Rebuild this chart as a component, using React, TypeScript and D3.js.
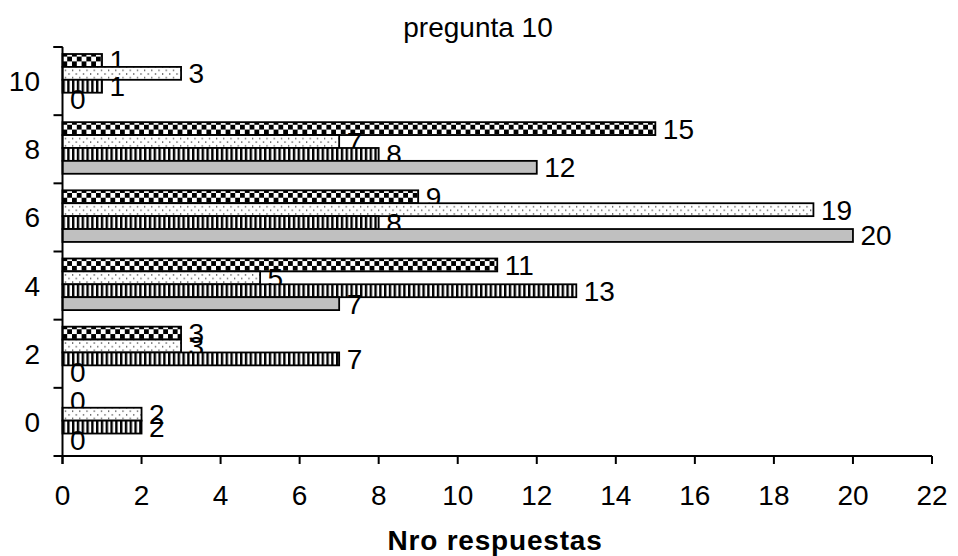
import React from "react";
import * as d3 from "d3";

const categories = ["0", "2", "4", "6", "8", "10"];
const seriesKeys = ["checker", "dots", "stripes", "gray"];
const checkerValues = [0, 3, 11, 9, 15, 1];
const dotValues = [2, 3, 5, 19, 7, 3];
const stripeValues = [2, 7, 13, 8, 8, 1];
const grayValues = [0, 0, 7, 20, 12, 0];
const xTicks = [0, 2, 4, 6, 8, 10, 12, 14, 16, 18, 20, 22];
const title = "pregunta 10";
const xTitle = "Nro respuestas";

const W = 958;
const H = 556;
const left = 62.5;
const right = 932;
const top = 47;
const bottom = 456;
const PS = 1.2;
const FONT = "'Liberation Sans', Arial, sans-serif";
const FS = 28;

const seriesValues: Record<string, number[]> = {
  checker: checkerValues,
  dots: dotValues,
  stripes: stripeValues,
  gray: grayValues,
};
const fills: Record<string, string> = {
  checker: "url(#pChecker)",
  dots: "url(#pDots)",
  stripes: "url(#pStripes)",
  gray: "#c0c0c0",
};

function T({ x, y, anchor = "start", bold = false, spacing = 0, children }: any) {
  return (
    <text
      x={x}
      y={y}
      textAnchor={anchor}
      fontFamily={FONT}
      fontSize={FS}
      fontWeight={bold ? "bold" : "normal"}
      letterSpacing={spacing}
      fill="#000"
    >
      {children}
    </text>
  );
}

export default function App() {
  const x = d3.scaleLinear().domain([0, 22]).range([left, right]);
  const y0 = d3.scaleBand<string>().domain(categories).range([bottom, top]).padding(0);
  const barH = 12.9;
  const y1 = d3
    .scaleBand<string>()
    .domain(seriesKeys)
    .range([7, 7 + 4 * barH])
    .padding(0);
  const bw = y0.bandwidth();
  const boundaries = categories.map((c) => y0(c) as number).concat([top, bottom]);

  return (
    <svg
      width={W}
      height={H}
      style={{ position: "fixed", left: 0, top: 0, background: "#fff" }}
    >
      <defs>
        <pattern id="pChecker" patternUnits="userSpaceOnUse" width={8} height={8} patternTransform={`scale(${PS})`}>
          <rect width={8} height={8} fill="#fff" />
          <rect width={4} height={4} fill="#000" />
          <rect x={4} y={4} width={4} height={4} fill="#000" />
        </pattern>
        <pattern id="pDots" patternUnits="userSpaceOnUse" width={6} height={6} patternTransform={`scale(${PS})`}>
          <rect width={6} height={6} fill="#fff" />
          <rect x={0} y={1} width={1} height={1} fill="#222" />
          <rect x={3} y={4} width={1} height={1} fill="#222" />
        </pattern>
        <pattern id="pStripes" patternUnits="userSpaceOnUse" width={4} height={4} patternTransform={`scale(${PS})`}>
          <rect width={4} height={4} fill="#fff" />
          <rect width={2} height={4} fill="#000" />
        </pattern>
      </defs>

      <T x={478} y={37} anchor="middle">{title}</T>

      {categories.map((c, ci) => (
        <g key={c} transform={`translate(0,${y0(c)})`}>
          {seriesKeys.map((k) => {
            const v = seriesValues[k][ci];
            const yy = y1(k) as number;
            return (
              <g key={k}>
                {v > 0 && (
                  <rect
                    x={x(0)}
                    y={yy}
                    width={x(v) - x(0)}
                    height={barH}
                    fill={fills[k]}
                    stroke="#000"
                    strokeWidth={1.8}
                  />
                )}
                <T x={x(v) + 7.5} y={yy + barH / 2 + 10}>{v}</T>
              </g>
            );
          })}
          <T x={40} y={bw / 2 + 10} anchor="end">{c}</T>
        </g>
      ))}

      {/* y axis */}
      <line x1={left} x2={left} y1={top} y2={bottom + 8} stroke="#000" strokeWidth={2} />
      {boundaries.map((b, i) => (
        <line key={i} x1={left - 9} x2={left} y1={b} y2={b} stroke="#000" strokeWidth={2} />
      ))}
      {/* x axis */}
      <line x1={left} x2={right} y1={bottom} y2={bottom} stroke="#000" strokeWidth={2} />
      {xTicks.map((t) => (
        <g key={t}>
          <line x1={x(t)} x2={x(t)} y1={bottom} y2={bottom + 8} stroke="#000" strokeWidth={2} />
          <T x={x(t)} y={505} anchor="middle">{t}</T>
        </g>
      ))}

      <T x={495} y={550} anchor="middle" bold spacing={0.8}>{xTitle}</T>
    </svg>
  );
}
